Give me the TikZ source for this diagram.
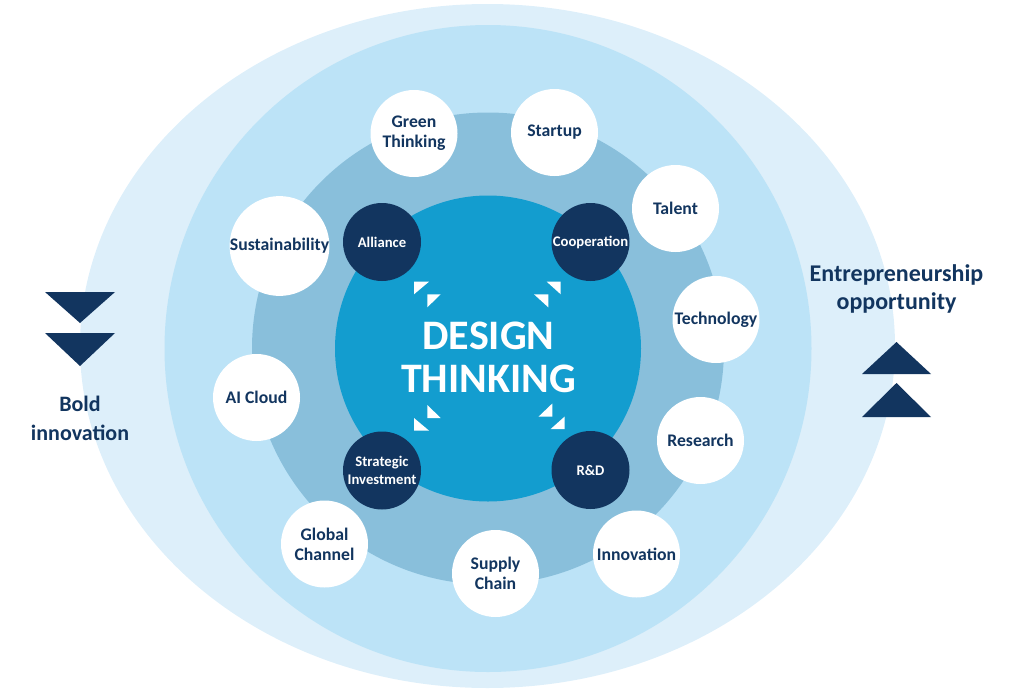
\documentclass[tikz,border=0pt]{standalone}
\usepackage{fontspec}
\setmainfont{Carlito}
\definecolor{ringA}{HTML}{DDEFFA}
\definecolor{ringB}{HTML}{BCE3F7}
\definecolor{ringC}{HTML}{89BFDB}
\definecolor{core}{HTML}{139DCF}
\definecolor{navy}{HTML}{12355F}
\tikzset{
  wcirc/.style={circle, fill=white, minimum size=87pt, inner sep=0pt, text=navy, align=center,
    font=\bfseries\fontsize{17.7}{20}\selectfont},
  dcirc/.style={circle, fill=navy, minimum size=78pt, inner sep=0pt, text=white, align=center,
    font=\bfseries\fontsize{14.7}{18}\selectfont},
  sidelabel/.style={text=navy, align=center, inner sep=0pt},
  tri/.style={fill=navy},
  wtri/.style={fill=white}
}
\begin{document}
\begin{tikzpicture}[x=1pt,y=-1pt]
\useasboundingbox (0,0) rectangle (1013,689);
% rings
\fill[ringA] (487.5,346) ellipse [x radius=407.5pt, y radius=342pt];
\fill[ringB] (488,348.5) circle [radius=323.5pt];
\fill[ringC] (488,348.5) circle [radius=236pt];
\node[circle, fill=core, minimum size=306pt, inner sep=0pt] (core) at (488,348.5) {};
\node[text=white, align=center, inner sep=0pt, font=\bfseries\fontsize{42}{43}\selectfont] (title) at (488.5,357) {DESIGN\\THINKING};
% corner arrows
\fill[wtri] (414,281.7) -- (429,281.7) -- (414,294.3) -- cycle;
\fill[wtri] (427.3,294.3) -- (440.7,294.3) -- (427.3,307.3) -- cycle;
\fill[wtri] (546.7,281.7) -- (560.7,281.7) -- (560.7,294.3) -- cycle;
\fill[wtri] (534,294.3) -- (548.3,294.3) -- (548.3,307.3) -- cycle;
\fill[wtri] (427.3,405) -- (427.3,418) -- (440.7,418) -- cycle;
\fill[wtri] (414,418) -- (414,430.6) -- (429,430.6) -- cycle;
\fill[wtri] (552.3,403.5) -- (552.3,416.5) -- (538.7,416.5) -- cycle;
\fill[wtri] (564.7,416.5) -- (564.7,429) -- (550.7,429) -- cycle;
% dark circles
\node[dcirc] (alliance) at (382,242) {Alliance};
\node[dcirc] (coop) at (590.5,242) {Cooperation};
\node[dcirc] (strat) at (382,470.5) {Strategic\\Investment};
\node[dcirc] (rd) at (590.5,470) {R\&D};
% white circles
\node[wcirc] (green) at (414,133.5) {Green\\Thinking};
\node[wcirc] (startup) at (554.5,132.5) {Startup};
\node[wcirc] (talent) at (675.5,208.5) {Talent};
\node[wcirc] (tech) at (716,319.5) {Technology};
\node[wcirc] (research) at (700.5,440.5) {Research};
\node[wcirc] (innov) at (636.5,554) {Innovation};
\node[wcirc] (supply) at (495.5,573.5) {Supply\\Chain};
\node[wcirc] (global) at (324.5,544) {Global\\Channel};
\node[wcirc] (ai) at (256.5,397.5) {AI Cloud};
\node[wcirc] (sust) at (279.5,246) {Sustainability};
% side labels
\node[sidelabel, font=\bfseries\fontsize{22}{29}\selectfont] (bold) at (80,418) {Bold\\innovation};
\node[sidelabel, font=\bfseries\fontsize{24}{28}\selectfont] (entre) at (896.5,289) {Entrepreneurship\\opportunity};
% triangles
\fill[tri] (45,292) -- (115,292) -- (80,323) -- cycle;
\fill[tri] (45,333) -- (115,333) -- (80,366) -- cycle;
\fill[tri] (896.5,342) -- (931,374) -- (862,374) -- cycle;
\fill[tri] (896.5,383) -- (931,417) -- (862,417) -- cycle;
\end{tikzpicture}
\end{document}
